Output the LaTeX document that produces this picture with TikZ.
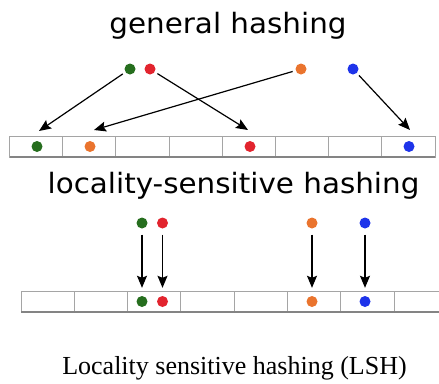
\documentclass[tikz,border=0pt]{standalone}
\usepackage{fontspec}
\setmainfont{Liberation Serif}
\newfontfamily\dejavu{DejaVu Sans}
\usetikzlibrary{arrows.meta}
\definecolor{dotgreen}{RGB}{38,110,30}
\definecolor{dotred}{RGB}{226,36,46}
\definecolor{dotorange}{RGB}{234,116,46}
\definecolor{dotblue}{RGB}{30,52,234}
\definecolor{cellgray}{RGB}{165,165,165}
\tikzset{
  dot/.style={circle,inner sep=0pt,minimum size=11pt,fill=#1,draw=none},
  cellbox/.style={rectangle,draw=cellgray,line width=1pt,minimum width=53.2pt,minimum height=21pt,inner sep=0pt,outer sep=0pt,anchor=west},
  maparrow/.style={line width=1.2pt,-{Stealth[length=12pt,width=10pt,inset=2pt]}},
  titletext/.style={font=\dejavu\fontsize{28}{32}\selectfont,inner sep=0pt,anchor=base},
  captiontext/.style={font=\fontsize{26}{30}\selectfont,inner sep=0pt,anchor=base}
}
\begin{document}
\begin{tikzpicture}[x=1pt,y=-1pt]
\useasboundingbox (0,0) rectangle (439,383);
\clip (0,0) rectangle (439,383);
% titles
\node[titletext] (t1) at (228,33.5) {\scalebox{1.05}[1]{general hashing}};
\node[titletext] (t2) at (233.5,193) {\scalebox{1.05}[1]{locality-sensitive hashing}};
\node[captiontext] (cap) at (234.5,374.5) {Locality sensitive hashing (LSH)};
% top bar
\foreach \i in {0,...,7} {
  \node[cellbox] (a\i) at ({9.5+53.2*\i},146.5) {};
}
\draw[cellgray!80!black,line width=1.2pt] (a0.south west) -- (a7.south east);
% bottom bar
\foreach \i in {0,...,8} {
  \node[cellbox] (b\i) at ({21+53.3*\i},301.5) {};
}
\draw[cellgray!80!black,line width=1.2pt] (b0.south west) -- (b8.south east);
% top dots
\node[dot=dotgreen] (g1) at (130,69) {};
\node[dot=dotred] (r1) at (150,69) {};
\node[dot=dotorange] (o1) at (301,69) {};
\node[dot=dotblue] (u1) at (353,69) {};
% top bar dots
\node[dot=dotgreen] (g2) at (37,146.5) {};
\node[dot=dotorange] (o2) at (90,146.5) {};
\node[dot=dotred] (r2) at (250,146.5) {};
\node[dot=dotblue] (u2) at (409,146.5) {};
% arrow tips
\coordinate (gt) at (39,131);
\coordinate (ot) at (94,130);
\coordinate (rt) at (248,130);
\coordinate (ut) at (410,130);
\draw[maparrow,shorten <=3pt] (g1) -- (gt);
\draw[maparrow,shorten <=3pt] (o1) -- (ot);
\draw[maparrow,shorten <=3pt] (r1) -- (rt);
\draw[maparrow,shorten <=3pt] (u1) -- (ut);
% bottom dots
\node[dot=dotgreen] (g3) at (142,223) {};
\node[dot=dotred] (r3) at (162.5,223) {};
\node[dot=dotorange] (o3) at (312,223) {};
\node[dot=dotblue] (u3) at (365,223) {};
\node[dot=dotgreen] (g4) at (142,301.5) {};
\node[dot=dotred] (r4) at (162.5,301.5) {};
\node[dot=dotorange] (o4) at (312,301.5) {};
\node[dot=dotblue] (u4) at (365,301.5) {};
\draw[maparrow,shorten <=6pt,shorten >=8pt] (g3) -- (g4);
\draw[maparrow,shorten <=6pt,shorten >=8pt] (r3) -- (r4);
\draw[maparrow,shorten <=6pt,shorten >=8pt] (o3) -- (o4);
\draw[maparrow,shorten <=6pt,shorten >=8pt] (u3) -- (u4);
\end{tikzpicture}
\end{document}
